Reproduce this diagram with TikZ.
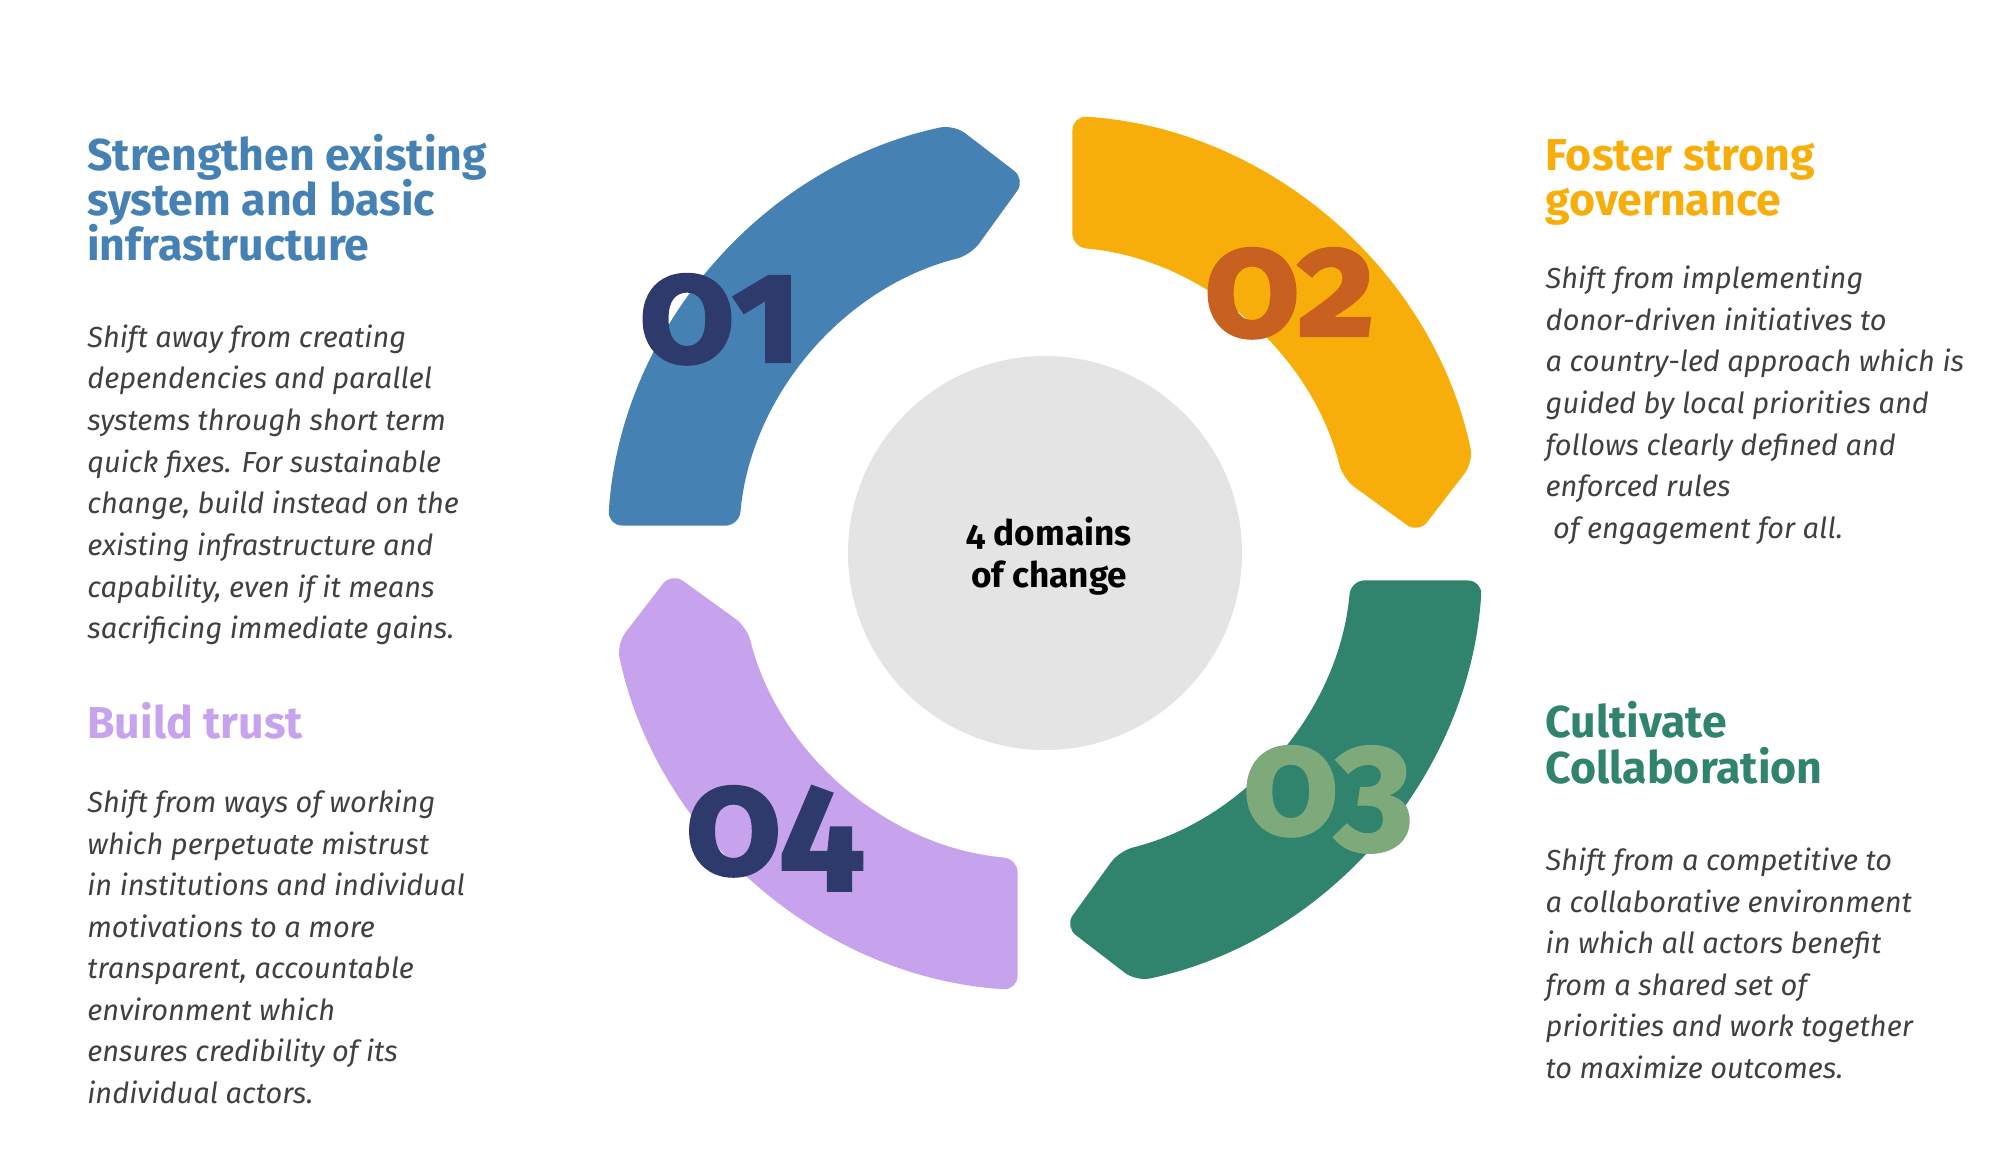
\documentclass[tikz,border=0pt]{standalone}
\usepackage{fontspec}
\setmainfont{Fira Sans}
\newfontfamily\bodyfont{Fira Sans}
\newfontfamily\numfont{Fira Sans}[Numbers=OldStyle, BoldFeatures={FakeBold=1.6}]
\newfontfamily\hubfont{Fira Sans}[Numbers=OldStyle]
\newcommand\tightlines{\lineskiplimit=-20pt\relax}
\definecolor{segBlue}{HTML}{4581B3}
\definecolor{segGold}{HTML}{F7AE0A}
\definecolor{segGreen}{HTML}{30836D}
\definecolor{segLilac}{HTML}{C6A3EC}
\definecolor{numNavy}{HTML}{2D3A6B}
\definecolor{numRust}{HTML}{C8601F}
\definecolor{numSage}{HTML}{7EA97A}
\definecolor{hubGrey}{HTML}{E4E4E4}
\definecolor{bodyGrey}{HTML}{404040}

\begin{document}
\begin{tikzpicture}[
  head/.style={anchor=base west, inner sep=0pt, align=left, font=\bfseries\fontsize{12.7}{12.9}\selectfont\tightlines},
  blurb/.style={anchor=base west, inner sep=0pt, align=left, text=bodyGrey, font=\bodyfont\itshape\fontsize{8.25}{11.8}\selectfont},
  num/.style={anchor=base, inner sep=0pt, font=\numfont\bfseries\fontsize{43}{43}\selectfont}]
  \useasboundingbox (0,0) rectangle (20.16,11.52);
  \coordinate (hub) at (10.45,5.99);
  % four arrow segments, clockwise
  \foreach \a/\clr in {180/segBlue, 90/segGold, 0/segGreen, -90/segLilac}
    \fill[\clr, shift={(hub)}, rounded corners=4pt] (\a-3.6:4.38) arc[start angle=\a-3.6, end angle=\a-78, radius=4.38]
      -- (\a-87:3.74) -- (\a-76:3.07) arc[start angle=\a-76, end angle=\a-5.1, radius=3.07] -- cycle;
  \node[circle, fill=hubGrey, minimum size=3.94cm, inner sep=0pt] (core) at (hub) {};
  \node[align=center, font=\hubfont\bfseries\fontsize{10}{12}\selectfont] (corelabel) at (10.49,5.96) {4 domains\\of change};
  \node[num, text=numNavy] (n1) at (7.20,7.90) {01};
  \node[num, text=numRust] (n2) at (12.90,8.16) {02};
  \node[num, text=numSage] (n3) at (13.28,3.18) {03};
  \node[num, text=numNavy] (n4) at (7.74,2.78) {04};
  % left column
  \node[head, text=segBlue] (h1) at (0.867,8.91) {Strengthen existing\\system and basic\\infrastructure};
  \node[blurb, font=\bodyfont\itshape\fontsize{8.25}{11.86}\selectfont] (b1) at (0.867,5.13) {Shift away from creating\\dependencies and parallel\\systems through short term\\quick fixes. For sustainable\\change, build instead on the\\existing infrastructure and\\capability, even if it means\\sacrificing immediate gains.};
  \node[head, text=segLilac] (h4) at (0.867,4.137) {Build trust};
  \node[blurb] (b4) at (0.867,0.49) {Shift from ways of working\\which perpetuate mistrust\\in institutions and individual\\motivations to a more\\transparent, accountable\\environment which\\ensures credibility of its\\individual actors.};
  % right column
  \node[head, text=segGold] (h2) at (15.45,9.36) {Foster strong\\governance};
  \node[blurb, font=\bodyfont\itshape\fontsize{8.25}{11.86}\selectfont] (b2) at (15.45,6.135) {Shift from implementing\\donor-driven initiatives to\\a country-led approach which is\\guided by local priorities and\\follows clearly defined and\\enforced rules\\\ of engagement for all.};
  \node[head, text=segGreen] (h3) at (15.45,3.687) {Cultivate\\Collaboration};
  \node[blurb] (b3) at (15.45,0.74) {Shift from a competitive to\\a collaborative environment\\in which all actors benefit\\from a shared set of\\priorities and work together\\to maximize outcomes.};
\end{tikzpicture}
\end{document}
